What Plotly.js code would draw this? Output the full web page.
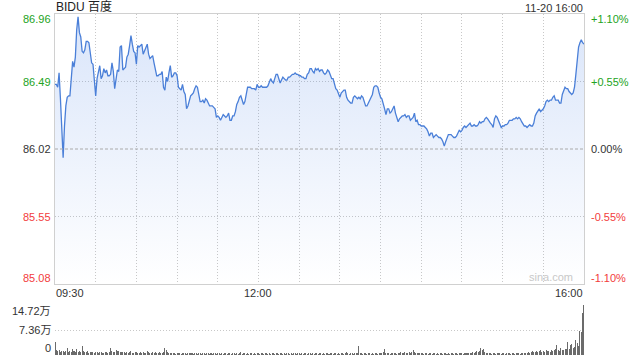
<!DOCTYPE html>
<html><head><meta charset="utf-8">
<script src="https://cdn.plot.ly/plotly-3.0.1.min.js"></script>
<style>html,body{margin:0;padding:0;background:#fff}#chart{width:640px;height:360px}</style>
</head><body><div id="chart"></div>
<script>
const symbol = 'BIDU 百度';
const stamp = '11-20 16:00';
const prevClose = 86.02;
const priceTicks = [86.96, 86.49, 86.02, 85.55, 85.08];
const pctTicks = ['+1.10%', '+0.55%', '0.00%', '-0.55%', '-1.10%'];
const gridMinutes = [0,30,60,90,120,150,180,210,240,270,300,330,360,390];
const timeLabelMinutes = [0, 150, 390];
const timeLabelText = ['09:30', '12:00', '16:00'];
const volTicks = [0, 7.36, 14.72];
const volTickText = ['0', '7.36万', '14.72万'];

// one price per minute from 09:30 to 16:00
const prices = [
86.47,86.47,86.45,86.55,86.37,86.20,85.96,86.18,86.32,86.38,
86.39,86.39,86.50,86.63,86.59,86.66,86.85,86.94,86.83,86.80,
86.70,86.69,86.71,86.77,86.77,86.76,86.69,86.62,86.61,86.52,
86.39,86.51,86.56,86.60,86.51,86.53,86.58,86.55,86.57,86.53,
86.53,86.54,86.62,86.56,86.44,86.51,86.57,86.56,86.73,86.74,
86.57,86.58,86.59,86.66,86.68,86.74,86.81,86.75,86.70,86.69,
86.61,86.74,86.73,86.74,86.75,86.68,86.70,86.73,86.75,86.68,
86.65,86.66,86.67,86.62,86.56,86.53,86.53,86.54,
86.54,86.56,86.45,86.43,86.52,86.49,86.55,86.60,86.52,86.53,
86.55,86.55,86.53,86.45,86.44,86.43,86.47,86.42,86.40,86.30,
86.32,86.35,86.39,86.40,86.41,86.44,86.46,86.45,86.39,86.35,
86.35,86.36,86.34,86.37,86.36,86.34,86.32,86.32,86.32,86.31,
86.30,86.24,86.25,86.24,86.22,86.24,86.26,86.25,86.24,86.25,
86.27,86.22,86.22,86.25,86.25,86.28,86.33,86.35,86.38,86.39,
86.35,86.33,86.35,86.41,86.45,86.45,86.45,86.44,86.44,86.44,
86.43,86.47,86.45,86.45,86.46,86.45,86.45,86.45,
86.45,86.46,86.48,86.51,86.49,86.48,86.51,86.54,86.54,86.51,
86.48,86.50,86.52,86.51,86.50,86.50,86.52,86.52,86.53,86.54,
86.54,86.55,86.54,86.54,86.53,86.53,86.52,86.52,86.51,86.51,
86.54,86.55,86.58,86.58,86.56,86.55,86.58,86.57,86.58,86.56,
86.57,86.57,86.55,86.54,86.55,86.57,86.56,86.53,86.51,86.51,
86.47,86.44,86.43,86.40,86.38,86.41,86.42,86.43,86.43,86.38,
86.36,86.35,86.34,86.34,86.38,86.39,86.38,86.37,86.38,86.37,
86.39,86.38,86.35,86.32,86.32,86.34,86.35,86.38,
86.40,86.45,86.46,86.46,86.45,86.41,86.38,86.37,86.34,86.30,
86.26,86.30,86.30,86.27,86.28,86.30,86.32,86.27,86.23,86.21,
86.23,86.24,86.25,86.25,86.26,86.24,86.25,86.25,86.22,86.23,
86.24,86.27,86.21,86.22,86.19,86.19,86.18,86.18,86.18,86.17,
86.16,86.14,86.11,86.13,86.13,86.10,86.11,86.12,86.11,86.10,
86.10,86.09,86.07,86.04,86.07,86.10,86.12,86.12,86.12,86.11,
86.10,86.10,86.11,86.13,86.15,86.14,86.15,86.17,86.18,86.17,
86.18,86.19,86.20,86.18,86.18,86.19,86.18,86.18,
86.19,86.21,86.20,86.21,86.21,86.23,86.24,86.23,86.21,86.20,
86.19,86.17,86.23,86.25,86.24,86.22,86.19,86.17,86.18,86.18,
86.19,86.19,86.20,86.22,86.22,86.22,86.23,86.23,86.24,86.23,
86.24,86.23,86.21,86.19,86.18,86.18,86.17,86.18,86.19,86.18,
86.18,86.20,86.25,86.27,86.29,86.30,86.28,86.29,86.30,86.32,
86.35,86.36,86.35,86.36,86.36,86.38,86.39,86.36,86.36,86.36,
86.34,86.34,86.40,86.42,86.45,86.44,86.44,86.42,86.41,86.40,
86.41,86.45,86.54,86.66,86.73,86.76,86.78,86.76,86.75
];

// volume per minute, in 万 shares
const volumes = [
3.9,1.5,1.2,1.4,1.0,1.3,1.1,0.9,1.2,2.0,
1.0,1.3,0.9,1.9,1.1,1.0,1.8,0.9,1.2,0.8,
2.6,1.3,1.0,0.8,1.1,0.7,0.9,0.8,1.0,0.7,
0.9,0.8,0.7,0.9,0.8,0.6,0.7,0.9,0.8,0.7,
1.0,2.0,1.2,0.9,1.0,1.4,1.1,1.3,0.9,0.8,
1.0,0.8,0.7,0.9,0.7,0.8,1.1,0.7,0.6,0.8,
0.9,0.7,0.6,0.8,0.7,0.9,0.6,0.7,1.2,0.8,
0.7,0.6,0.8,0.7,0.9,0.6,0.7,0.8,0.6,0.7,
0.9,2.0,1.5,0.8,0.6,0.5,0.7,0.5,0.6,0.4,
0.5,0.6,0.5,0.4,0.6,0.5,0.5,0.4,0.6,0.5,
0.7,0.5,0.4,0.6,0.5,0.4,0.5,0.6,0.4,0.5,
0.6,0.4,0.5,0.7,0.4,0.5,0.4,0.6,0.5,0.4,
0.5,0.6,0.4,0.5,0.4,0.7,0.5,0.4,0.6,0.5,
0.4,0.5,0.6,0.4,0.5,0.4,0.5,0.8,0.4,0.5,
0.6,0.4,0.5,0.4,0.6,0.5,0.4,0.5,0.4,0.6,
0.5,0.4,0.7,0.5,0.4,0.5,0.6,0.4,0.5,0.4,
0.6,0.5,0.4,0.5,0.6,0.4,0.5,0.7,0.4,0.5,
0.4,0.6,0.5,0.4,0.5,0.4,0.6,0.5,0.4,0.5,
0.6,0.4,0.5,0.4,0.7,0.5,0.4,0.5,0.6,0.4,
0.5,0.4,0.6,0.5,0.4,0.5,0.6,0.4,0.5,0.4,
0.6,0.5,0.4,0.5,0.7,0.4,0.5,0.6,0.4,0.5,
0.4,0.5,0.6,0.4,0.5,0.8,0.5,0.4,0.6,0.5,
0.4,0.5,0.6,0.5,2.6,0.6,0.5,0.4,0.5,0.6,
0.4,0.5,0.6,0.4,0.5,0.4,0.6,0.5,0.4,0.7,
0.5,0.6,0.8,1.8,0.7,0.5,0.6,0.4,0.5,0.6,
0.5,0.7,0.4,0.6,0.5,0.8,0.6,0.5,0.9,0.7,
0.6,1.0,0.7,0.8,1.5,0.9,0.6,0.5,0.7,0.6,
0.5,0.6,0.4,0.5,0.6,0.4,0.5,0.6,0.4,0.5,
0.6,0.4,0.5,0.4,0.6,0.5,0.4,0.5,0.6,0.4,
0.5,0.4,0.6,0.5,0.4,0.5,0.6,0.4,0.5,0.6,
0.5,0.4,0.6,0.5,0.7,0.5,0.6,0.5,0.8,0.7,
0.9,1.1,0.8,1.2,2.0,1.4,1.8,1.0,0.7,0.6,
0.5,0.6,0.4,0.5,0.6,0.4,0.5,0.6,0.5,0.4,
0.5,0.6,0.4,0.5,0.6,0.5,0.4,0.5,0.6,0.4,
0.5,0.6,0.5,0.4,0.6,0.5,0.7,0.5,0.6,0.8,
0.7,0.9,1.2,0.8,1.0,1.3,0.9,1.1,1.4,1.0,
1.2,0.9,1.5,1.1,1.3,1.0,1.6,1.2,1.4,1.8,
2.9,1.5,1.3,2.0,1.6,1.4,1.9,1.7,3.9,1.8,
2.9,3.2,2.1,2.5,4.4,3.4,2.6,7.2,6.7,12.3,
14.72
];

const minutes = prices.map((p, i) => i); // minutes since 09:30

const FONT = 'Arial, "Liberation Sans", "Noto Sans CJK SC", sans-serif';
const GREEN = '#22a322', RED = '#f23c3c', DARK = '#333333';
const colorFor = v => v > prevClose ? GREEN : (v < prevClose ? RED : DARK);
const yMin = priceTicks[priceTicks.length - 1], yMax = priceTicks[0];

const traces = [
  {
    x: minutes, y: prices, type: 'scatter', mode: 'lines',
    line: {color: '#4a7fd8', width: 1.3},
    fill: 'tozeroy',
    fillgradient: {type: 'vertical', start: yMin, stop: yMax,
      colorscale: [[0, 'rgba(75,130,230,0.0)'], [1, 'rgba(75,130,230,0.21)']]},
    xaxis: 'x', yaxis: 'y', hoverinfo: 'skip'
  },
  {
    x: minutes, y: volumes, type: 'bar',
    marker: {color: '#6b6b6b', line: {width: 0}},
    width: 0.75, xaxis: 'x2', yaxis: 'y2', hoverinfo: 'skip'
  }
];

const annotations = [];
const lab = (o) => annotations.push(Object.assign({showarrow: false, font: {family: FONT, size: 11, color: DARK}, borderpad: 0}, o));

priceTicks.forEach((v, i) => {
  const anchor = i === 0 ? 'top' : (i === priceTicks.length - 1 ? 'bottom' : 'middle');
  const ys = i === 0 ? 2 : (i === priceTicks.length - 1 ? -1 : 0);
  lab({xref: 'paper', yref: 'y', x: 0, y: v, xanchor: 'right', yanchor: anchor, xshift: -3, yshift: ys,
       text: v.toFixed(2), font: {family: FONT, size: 11, color: colorFor(v)}});
  lab({xref: 'paper', yref: 'y', x: 1, y: v, xanchor: 'left', yanchor: anchor, xshift: 6, yshift: ys,
       text: pctTicks[i], font: {family: FONT, size: 11, color: colorFor(v)}});
});
timeLabelMinutes.forEach((m, i) => {
  const xa = i === 0 ? 'left' : (i === timeLabelMinutes.length - 1 ? 'right' : 'center');
  lab({xref: 'x', yref: 'y', x: m, y: yMin, xanchor: xa, yanchor: 'top', yshift: -2, text: timeLabelText[i]});
});
volTicks.forEach((v, i) => {
  const anchor = i === 0 ? 'bottom' : (i === volTicks.length - 1 ? 'top' : 'middle');
  lab({xref: 'paper', yref: 'y2', x: 0, y: v, xanchor: 'right', yanchor: anchor, xshift: -3, yshift: i === volTicks.length - 1 ? 1 : 0, text: volTickText[i]});
});
lab({xref: 'paper', yref: 'paper', x: 0, y: 1, xanchor: 'left', yanchor: 'bottom', yshift: -1, text: symbol,
     font: {family: FONT, size: 12, color: '#222'}});
lab({xref: 'paper', yref: 'paper', x: 1, y: 1, xanchor: 'right', yanchor: 'bottom', yshift: -1, text: stamp});
lab({xref: 'paper', yref: 'y', x: 1, y: yMin, xanchor: 'right', yanchor: 'bottom', xshift: -10, yshift: 0, text: 'sina.com',
     font: {family: FONT, size: 11, color: '#c8c8c8'}});

const gridDash = '1px,2px';
const layout = {
  width: 640, height: 360,
  margin: {l: 55, r: 56, t: 14, b: 5},
  paper_bgcolor: '#ffffff', plot_bgcolor: '#ffffff',
  showlegend: false, bargap: 0,
  xaxis: {domain: [0, 1], range: [0, 390], anchor: 'y', tickvals: gridMinutes, showticklabels: false, ticks: '',
          showgrid: true, gridcolor: '#c8c8c8', griddash: gridDash, gridwidth: 1,
          showline: true, mirror: true, linecolor: '#d0d0d0', linewidth: 1, zeroline: false},
  yaxis: {domain: [0.2082, 1], range: [yMin, yMax], anchor: 'x',
          tickvals: priceTicks.filter(v => v !== prevClose), showticklabels: false, ticks: '',
          showgrid: true, gridcolor: '#c8c8c8', griddash: gridDash, gridwidth: 1,
          showline: true, mirror: true, linecolor: '#d0d0d0', linewidth: 1, zeroline: false},
  xaxis2: {domain: [0, 1], range: [0, 390], anchor: 'y2', matches: 'x', showticklabels: false, ticks: '',
           showgrid: false, showline: false, zeroline: false},
  yaxis2: {domain: [0, 0.1466], range: [0, volTicks[volTicks.length - 1]], anchor: 'x2',
           tickvals: volTicks.slice(1), showticklabels: false, ticks: '',
           showgrid: true, gridcolor: '#c8c8c8', griddash: gridDash, gridwidth: 1, zeroline: false, showline: false},
  shapes: [{type: 'line', xref: 'paper', yref: 'y', x0: 0, x1: 1, y0: prevClose, y1: prevClose,
            line: {color: '#aaaaaa', width: 1, dash: '3px,2px'}, layer: 'above'}],
  annotations: annotations
};

Plotly.newPlot('chart', traces, layout, {staticPlot: true, displayModeBar: false});
</script></body></html>
